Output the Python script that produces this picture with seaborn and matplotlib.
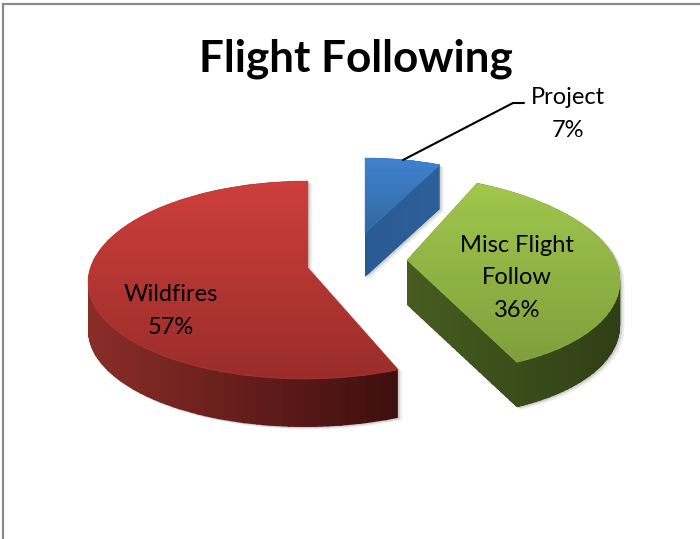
import numpy as np
import matplotlib
matplotlib.use('Agg')
import matplotlib.pyplot as plt
from matplotlib.patches import PathPatch, Rectangle
from matplotlib.path import Path
import seaborn as sns

# dados
categorias = ['Project', 'Misc Flight\nFollow', 'Wildfires']
valores = [7, 36, 57]
titulo = 'Flight Following'

# forma de cada fatia em pixels: centro do aro, raios, cisalhamento, vertice, altura
centros = [(365, 230), (406.5, 270), (306.5, 282)]
raios_x = [176, 212.5, 218.5]
raios_fundo = [72, 96, 101]
raios_frente = [72, 102, 97]
cisalha = [0, -22, 1.5]
vertices = [(365, 233), (407, 260), (308, 268)]
alturas = [44, 45, 48]

# cores: topo (cima, baixo) e lateral (esquerda, direita)
topo_cores = [('#3f81cf', '#33689f'), ('#a0c64c', '#7f9f3c'), ('#cc3f3a', '#9a2c2a')]
lado_cores = [('#2a5a94', '#2c5f98'), ('#465c20', '#303f15'), ('#8a2c28', '#3f0f0e')]
rotulos_pos = [(568, 114), (517, 278), (171, 311)]

sns.set_theme(style='white')
plt.rcParams['font.family'] = ['Lato', 'DejaVu Sans']

fig = plt.figure(figsize=(7, 5.39), dpi=100)
ax = fig.add_axes([0, 0, 1, 1])

# a pizza sai do matplotlib, depois cada fatia e achatada para parecer 3D
fatias, _ = ax.pie(valores, startangle=90, counterclock=False)
caminhos = []
for f, c, rx, rb, rf, k, v in zip(fatias, centros, raios_x, raios_fundo, raios_frente, cisalha, vertices):
    p = f.get_path()
    xy = p.vertices
    novo = np.zeros_like(xy)
    ry = np.where(xy[:, 1] > 0, rb, rf)
    novo[:, 0] = c[0] + rx * xy[:, 0] + k * xy[:, 1]
    novo[:, 1] = c[1] - ry * xy[:, 1]
    novo[np.hypot(xy[:, 0], xy[:, 1]) < 0.01] = v
    caminhos.append(Path(novo, p.codes))
    f.remove()

ax.set_aspect('auto')
ax.set_xlim(0, 700)
ax.set_ylim(539, 0)
ax.axis('off')


def gradiente(caminho, cores, horizontal):
    # faixas finas cortadas pela forma da fatia
    caixa = caminho.get_extents()
    n = 48
    paleta = sns.blend_palette(cores, n_colors=n)
    recorte = PathPatch(caminho, transform=ax.transData)
    for i, cor in enumerate(paleta):
        if horizontal:
            passo = caixa.width / n
            r = Rectangle((caixa.x0 + i * passo, caixa.y0 - 1), passo + 1.5, caixa.height + 2,
                          fc=cor, ec='none')
        else:
            passo = caixa.height / n
            r = Rectangle((caixa.x0 - 1, caixa.y0 + i * passo), caixa.width + 2, passo + 1.5,
                          fc=cor, ec='none')
        ax.add_patch(r)
        r.set_clip_path(recorte)


for caminho, h, ct, cl in zip(caminhos, alturas, topo_cores, lado_cores):
    camadas = []
    for d in range(0, h + 1):
        camadas.append(Path(caminho.vertices + [0, d], caminho.codes))
    corpo = Path.make_compound_path(*camadas)
    # sombra bem fraca
    for s, a in [(4, 0.10), (2, 0.18)]:
        ax.add_patch(PathPatch(Path(corpo.vertices + [s, s * 0.6], corpo.codes),
                               fc='#555555', ec='none', alpha=a))
    gradiente(corpo, cl, True)
    gradiente(caminho, ct, False)
    ax.add_patch(PathPatch(caminho, fc='none', ec=ct[0], lw=0.5, alpha=0.6))

ax.set_xlim(0, 700)
ax.set_ylim(539, 0)

# textos
ax.text(355.5, 59, titulo, fontsize=31.7, fontweight='bold', ha='center', va='center', color='black')
for nome, val, pos in zip(categorias, valores, rotulos_pos):
    ax.text(pos[0], pos[1], f'{nome}\n{val}%', fontsize=17, ha='center', va='center',
            color='black', linespacing=1.7)

# linha de chamada do Project
ax.plot([403, 513, 524], [160, 103, 103], color='black', lw=1.5)

# moldura cinza do grafico
ax.plot([3, 3, 700], [539, 4, 4], color='#8a8a8a', lw=1.6, solid_joinstyle='miter')

fig.savefig('out.png', dpi=100)
